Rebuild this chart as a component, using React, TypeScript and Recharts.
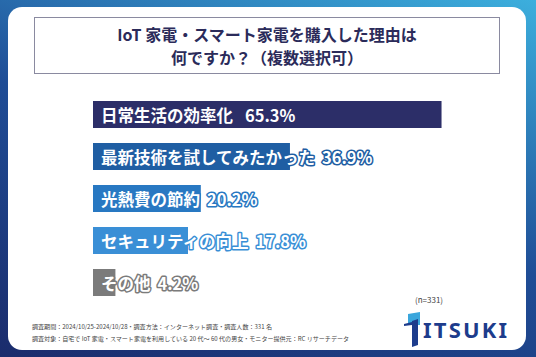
import React from "react";
import { BarChart, Bar, XAxis, YAxis, Cell, LabelList } from "recharts";

// 回答項目
const categories = [
  "日常生活の効率化",
  "最新技術を試してみたかった",
  "光熱費の節約",
  "セキュリティの向上",
  "その他",
];

// 回答率（%）
const percentages = [65.3, 36.9, 20.2, 17.8, 4.2];

const titleLines = ["IoT 家電・スマート家電を購入した理由は", "何ですか？（複数選択可）"];

const footnotes = [
  "調査期間：2024/10/25-2024/10/28・調査方法：インターネット調査・調査人数：331 名",
  "調査対象：自宅で IoT 家電・スマート家電を利用している 20 代～ 60 代の男女・モニター提供元：RC リサーチデータ",
];

const sampleNote = "(n=331)";

// バーの色
const barColors = ["#2c2e68", "#1f5ea3", "#2878c2", "#3a8fd6", "#7b7b7b"];

const FONT = '"Noto Sans CJK JP", "Noto Sans", sans-serif';

const data = categories.map((name, i) => ({ name, value: percentages[i] }));

const renderLabel = (props: any) => {
  const { x, y, height, index } = props;
  const color = barColors[index];
  return (
    <text
      x={Number(x) + 8}
      y={Number(y) + Number(height) / 2}
      dominantBaseline="central"
      fontFamily={FONT}
      fontSize={16.5}
      fontWeight={700}
      fill="#ffffff"
      stroke={color}
      strokeWidth={3}
      strokeLinejoin="round"
      paintOrder="stroke"
    >
      <tspan>{categories[index]}</tspan>
      <tspan dx={index === 0 ? 12 : 7}>{percentages[index].toFixed(1)}%</tspan>
    </text>
  );
};

export default function App() {
  return (
    <div
      style={{
        position: "absolute",
        left: 0,
        top: 0,
        width: 536,
        height: 357,
        overflow: "hidden",
        fontFamily: FONT,
        background: "linear-gradient(20deg, #1b2c6c 0%, #1f4d96 50%, #3cafdd 100%)",
      }}
    >
      {/* 白いカード */}
      <div
        style={{
          position: "absolute",
          left: 8,
          top: 7,
          width: 518,
          height: 343,
          background: "#ffffff",
          borderRadius: 14,
        }}
      />

      {/* タイトル枠 */}
      <div
        style={{
          position: "absolute",
          left: 34,
          top: 17,
          width: 466,
          height: 57,
          border: "1px solid #8a8aa0",
          boxSizing: "border-box",
          display: "flex",
          flexDirection: "column",
          justifyContent: "center",
          alignItems: "center",
          color: "#2b2b5a",
          fontWeight: 700,
          fontSize: 16,
          lineHeight: "23px",
        }}
      >
        {titleLines.map((t) => (
          <div key={t}>{t}</div>
        ))}
      </div>

      <div style={{ position: "absolute", left: 0, top: 0 }}>
        <BarChart
          width={536}
          height={357}
          data={data}
          layout="vertical"
          margin={{ top: 93, right: 16, bottom: 54, left: 93 }}
          barSize={27}
        >
          <XAxis type="number" domain={[0, 80]} hide />
          <YAxis type="category" dataKey="name" hide width={0} />
          <Bar dataKey="value" isAnimationActive={false}>
            {data.map((_, i) => (
              <Cell key={i} fill={barColors[i]} />
            ))}
            <LabelList dataKey="value" content={renderLabel} />
          </Bar>
        </BarChart>
      </div>

      {/* n数 */}
      <div
        style={{
          position: "absolute",
          left: 415,
          top: 295,
          fontSize: 8,
          color: "#444",
          lineHeight: "10px",
        }}
      >
        {sampleNote}
      </div>

      {/* 注記 */}
      <div
        style={{
          position: "absolute",
          left: 32,
          top: 321,
          fontSize: 6.05,
          color: "#444",
          lineHeight: "11.6px",
          whiteSpace: "nowrap",
        }}
      >
        {footnotes.map((t) => (
          <div key={t}>{t}</div>
        ))}
      </div>

      {/* ロゴ */}
      <svg style={{ position: "absolute", left: 0, top: 0 }} width={536} height={357}>
        <polygon points="408,314 420,312 420,325 408,325" fill="#3aa6dc" />
        <polygon points="404,324 412,322 412,325 404,326" fill="#1d3c8c" />
        <polygon points="412,321 418,319 418,345 412,347" fill="#1d3c8c" />
        <text
          x={423}
          y={337.5}
          fontFamily='"Noto Sans", sans-serif'
          fontWeight={700}
          fontSize={22}
          letterSpacing={2.2}
          fill="#1d3c8c"
        >
          ITSUKI
        </text>
      </svg>
    </div>
  );
}
